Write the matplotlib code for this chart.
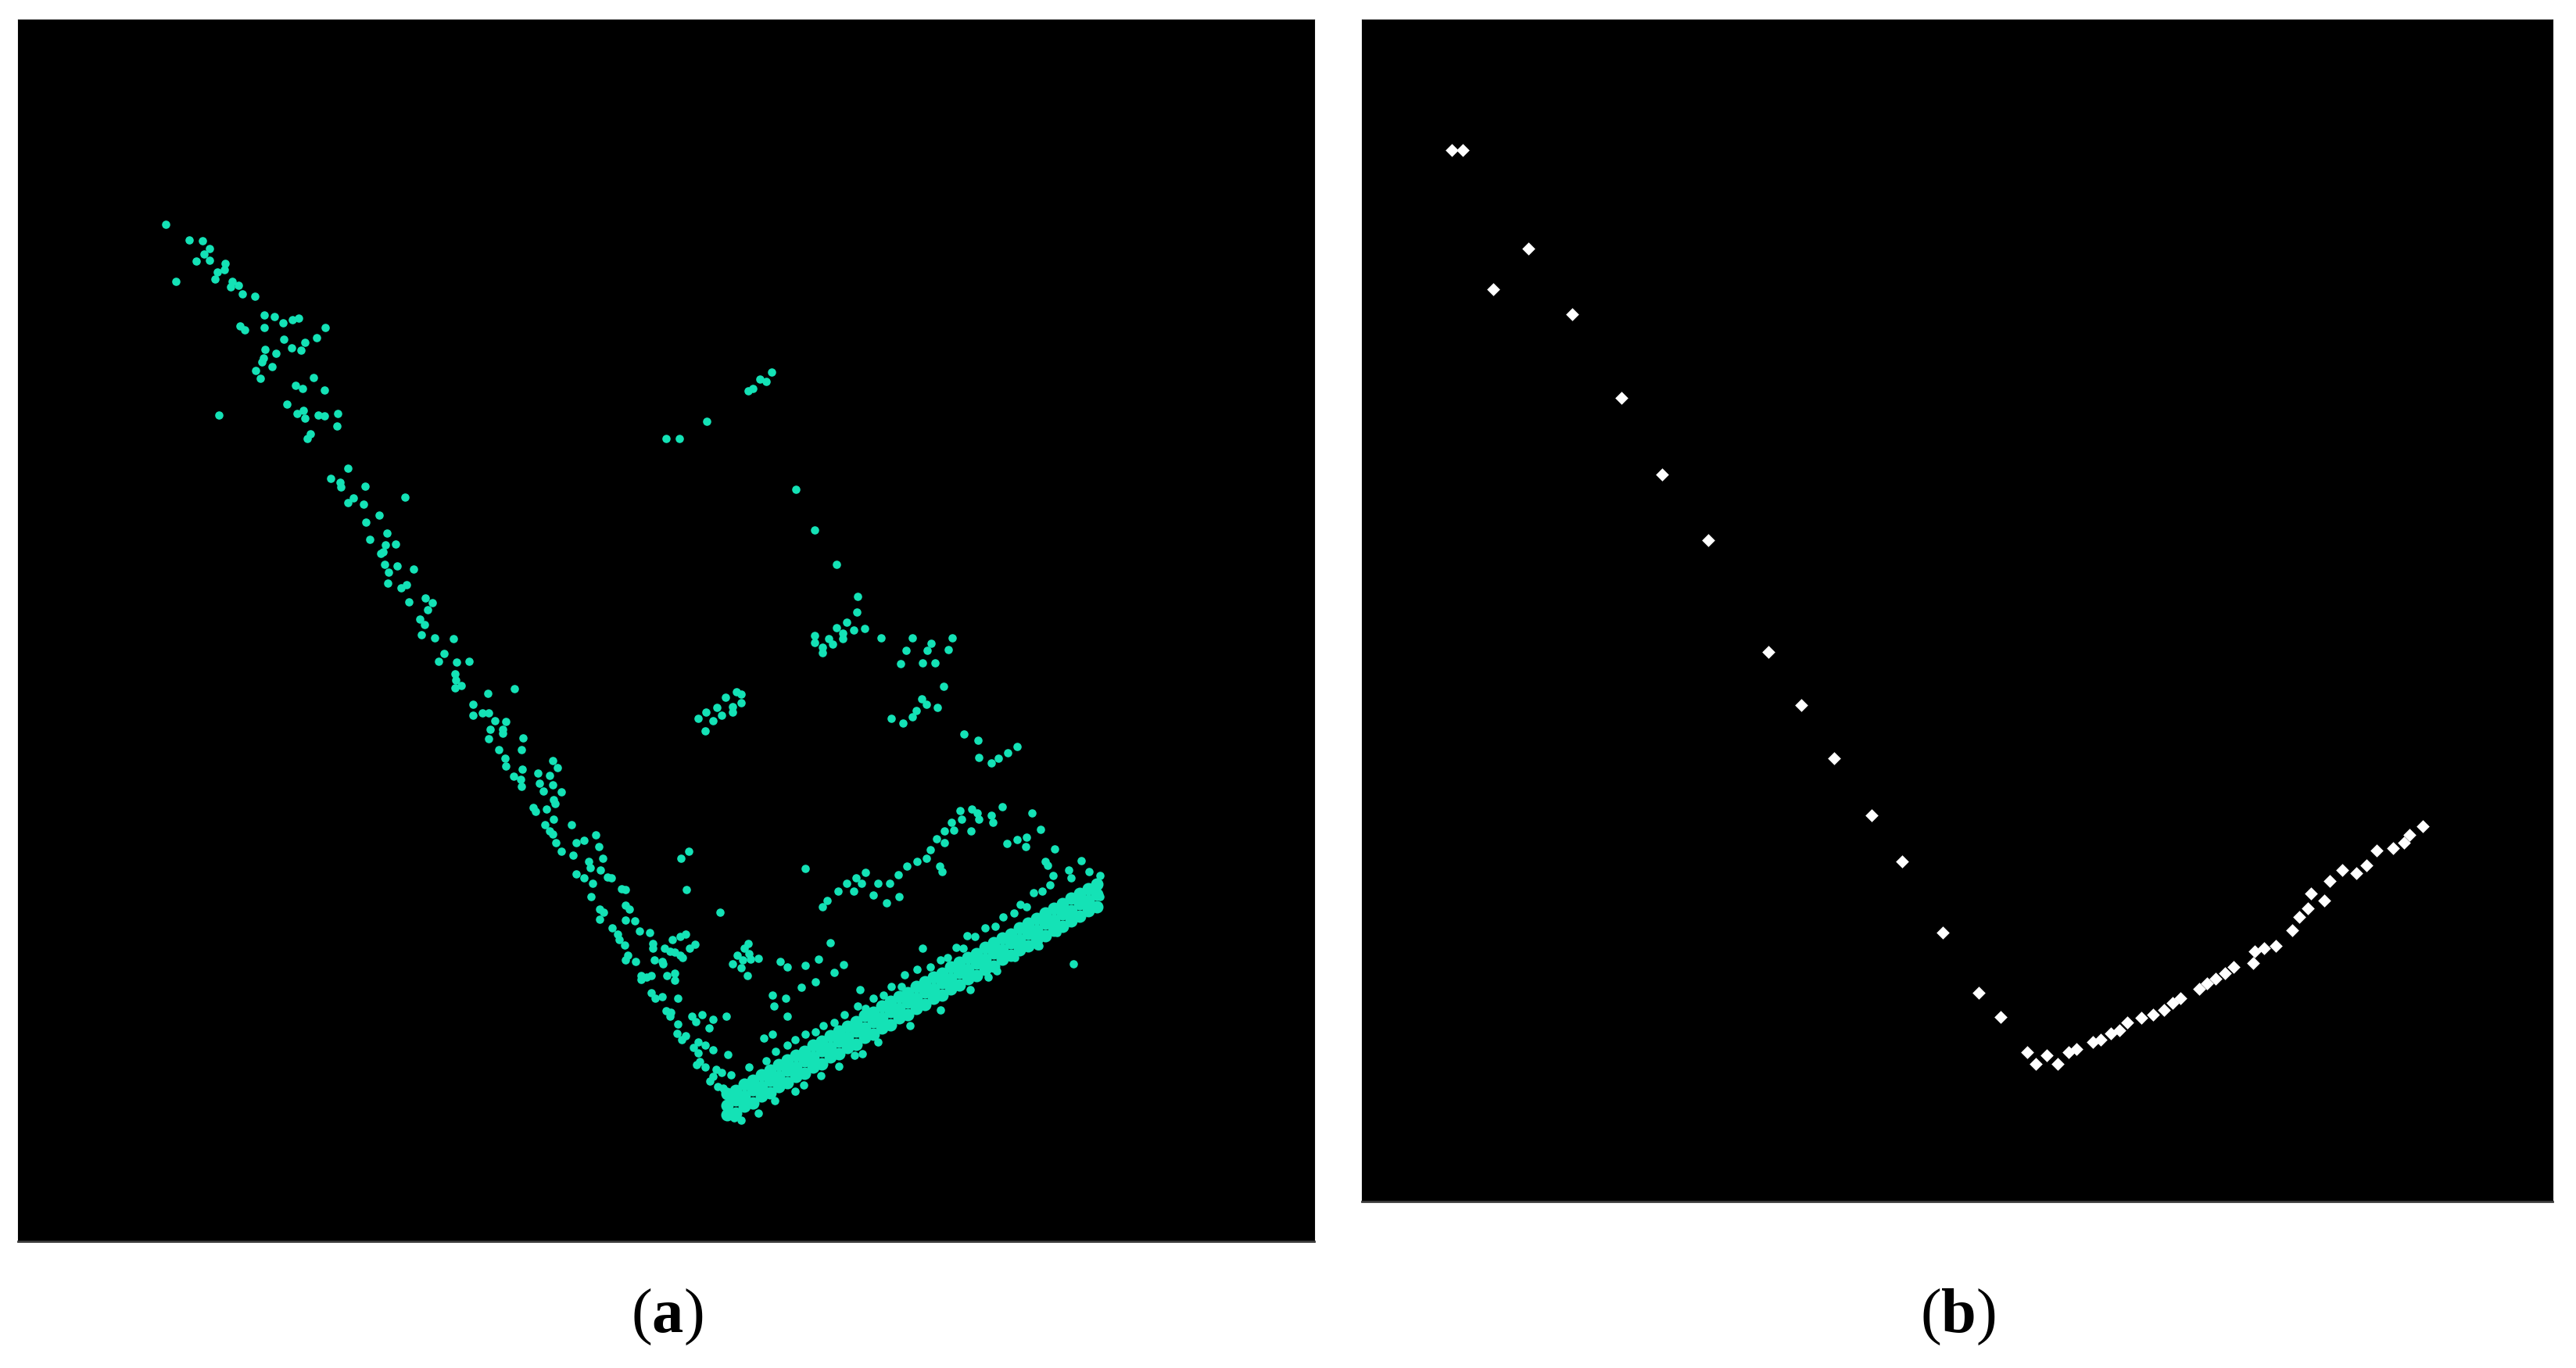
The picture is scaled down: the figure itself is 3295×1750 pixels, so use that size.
import numpy as np
import matplotlib
matplotlib.use("Agg")
import matplotlib.pyplot as plt

plt.rcParams['mathtext.fontset'] = 'custom'
plt.rcParams['mathtext.rm'] = 'Liberation Serif'
plt.rcParams['mathtext.bf'] = 'Liberation Serif:bold'

#Step 1: point cloud (a), in image pixels
# wall: the long diagonal run of points from top-left down to the floor
wall_pts = [
    (212, 287), (242, 307), (259, 308), (268, 318), (261, 325), (251, 334), (268, 333), (288, 337),
    (287, 345), (278, 348), (275, 357), (225, 360), (297, 360), (305, 365), (295, 367), (310, 376),
    (326, 379), (338, 403), (351, 405), (362, 413), (374, 409), (382, 407), (307, 417), (313, 422),
    (338, 419), (416, 419), (405, 432), (363, 434), (373, 445), (390, 438), (385, 448), (339, 447),
    (353, 452), (337, 458), (335, 463), (348, 469), (327, 474), (333, 484), (401, 483), (378, 493),
    (387, 497), (415, 499), (367, 517), (280, 531), (380, 529), (388, 525), (390, 535), (407, 531),
    (415, 532), (432, 529), (431, 545), (397, 555), (393, 561), (445, 599), (423, 612), (435, 617),
    (436, 623), (467, 622), (518, 636), (452, 637), (445, 643), (465, 645),
    (485, 659), (468, 668), (495, 682), (473, 690), (493, 697), (506, 696), (490, 706), (487, 708),
    (492, 722), (508, 724), (529, 728), (497, 732), (496, 746), (513, 752), (520, 748), (523, 770),
    (544, 765), (553, 771), (547, 780), (537, 792), (543, 799), (539, 812), (556, 816), (580, 817),
    (568, 836), (561, 846), (584, 847), (600, 846), (582, 862), (583, 870), (590, 877), (582, 880),
    (658, 881), (624, 887), (605, 901), (605, 915), (617, 912), (625, 912), (633, 922), (647, 923),
    (643, 933), (627, 933), (625, 945), (643, 938), (669, 944), (638, 959), (667, 959), (646, 970),
    (647, 980), (668, 984), (657, 993), (666, 997), (667, 1006), (707, 973), (713, 982), (688, 989),
    (703, 992), (690, 1002), (707, 1004), (695, 1012), (718, 1013),
    (708, 1023), (710, 1028), (682, 1033), (685, 1038), (699, 1035), (708, 1048), (731, 1055),
    (697, 1055), (703, 1063), (707, 1067), (762, 1068), (737, 1078), (747, 1075), (711, 1078),
    (718, 1089), (733, 1094), (766, 1083), (753, 1102), (755, 1110), (771, 1098), (737, 1118),
    (747, 1123), (758, 1130), (768, 1113), (777, 1122), (782, 1123), (795, 1137), (800, 1138),
    (756, 1147), (767, 1163), (772, 1167), (767, 1176), (800, 1158), (805, 1163), (800, 1177),
    (812, 1178), (783, 1187), (790, 1195), (792, 1202), (799, 1209), (818, 1191), (831, 1193),
    (835, 1207), (835, 1213), (860, 1202), (870, 1198), (877, 1195), (850, 1213), (857, 1217),
    (863, 1218), (870, 1222), (882, 1213), (889, 1208), (873, 1225), (837, 1228), (847, 1230),
    (848, 1233), (803, 1222), (800, 1228), (813, 1230), (820, 1248), (827, 1250), (833, 1248),
    (820, 1253), (853, 1248), (863, 1245), (863, 1254), (833, 1270), (838, 1277), (847, 1275),
    (867, 1277), (852, 1293), (858, 1295), (857, 1300), (885, 1300), (898, 1298), (912, 1304),
    (890, 1307), (929, 1300), (867, 1310), (907, 1315),
    (866, 1322), (877, 1325), (872, 1330), (893, 1333), (902, 1337), (887, 1340), (912, 1343),
    (893, 1347), (895, 1358), (891, 1362), (902, 1365), (916, 1368), (912, 1377), (923, 1372),
    (935, 1375), (908, 1383), (918, 1390), (927, 1395), (931, 1413), (939, 1430), (948, 1433),
]

# clutter: the loose groups between wall and floor
clutter_pts = [
    (987, 476), (972, 485), (980, 488), (963, 497), (957, 500), (904, 539), (852, 561), (869, 561),
    (1018, 626), (1042, 678), (1070, 722), (1097, 763), (1096, 783), (1070, 803), (1083, 796),
    (1092, 806), (1106, 804), (1042, 813), (1042, 822), (1060, 817), (1065, 824), (1078, 810),
    (1078, 817), (1052, 828), (1052, 835), (1127, 816), (1167, 816), (1159, 832), (1191, 823),
    (1186, 832), (1218, 816), (1213, 831), (1152, 849), (1180, 848), (1196, 848), (1207, 878),
    (1179, 894), (1185, 901), (1199, 905), (1172, 909), (1167, 917), (1140, 919), (1155, 925),
    (1233, 939), (1251, 947), (1252, 969), (1268, 976), (1277, 970), (1289, 963), (1301, 955),
    (893, 919), (903, 911), (912, 922), (917, 905), (923, 915), (928, 892), (937, 904), (937, 911),
    (942, 885), (948, 888), (948, 899), (902, 935),
    (881, 1089), (871, 1098), (878, 1138), (921, 1167), (1030, 1111),
    (957, 1207), (952, 1213), (943, 1222), (958, 1220), (960, 1227), (970, 1226), (937, 1233),
    (948, 1238), (956, 1248), (950, 1228),
    (998, 1230), (1007, 1237), (1030, 1235), (1047, 1227), (1025, 1263), (1043, 1256),
    (988, 1273), (1005, 1277), (990, 1287), (1007, 1300),
    (1062, 1206), (1079, 1234), (1067, 1244), (988, 1323), (977, 1328), (931, 1349), (1100, 1266),
    (1180, 1213), (1327, 1210), (1373, 1233),
    (1282, 1032), (1320, 1040), (1331, 1061), (1349, 1086), (1288, 1079), (1301, 1074), (1313, 1071),
    (1312, 1083), (1383, 1101), (1337, 1102), (1340, 1107),
    (1268, 1043), (1270, 1052), (1250, 1040), (1252, 1048), (1243, 1035), (1242, 1063), (1228, 1037),
    (1230, 1048), (1217, 1052), (1220, 1062), (1208, 1063), (1198, 1073), (1208, 1078), (1190, 1087),
    (1185, 1098), (1173, 1102), (1160, 1108), (1149, 1119), (1202, 1108), (1205, 1115), (1138, 1130),
    (1123, 1130), (1107, 1116), (1095, 1123), (1102, 1130), (1083, 1130), (1072, 1140), (1092, 1140),
    (1117, 1145), (1150, 1147), (1134, 1155), (1052, 1160), (1058, 1152),
    (1367, 1113), (1370, 1123), (1393, 1115), (1407, 1120), (1400, 1137), (1407, 1147), (1393, 1160),
    (1347, 1120), (1343, 1132),
]

# edge: the thin row running just above the floor band
edge_pts = [
    (958, 1365), (980, 1357), (992, 1345), (1007, 1337), (1017, 1330), (1030, 1323), (1043, 1320),
    (1053, 1312), (1067, 1308), (1080, 1298), (1097, 1287), (1107, 1290), (1117, 1277), (1130, 1273),
    (1140, 1262), (1153, 1262), (1157, 1247), (1173, 1240), (1190, 1237), (1203, 1228), (1212, 1225),
    (1223, 1212), (1232, 1213), (1237, 1197), (1247, 1198), (1260, 1187), (1273, 1185), (1283, 1173),
    (1297, 1168), (1305, 1157), (1313, 1160), (1322, 1142), (1333, 1140),
]

# floor: the dense band at the bottom, read as three rows
floor_x = [930, 941, 952, 963, 974, 985, 996, 1007, 1018, 1029, 1040, 1051, 1062, 1073, 1084,
           1095, 1106, 1117, 1128, 1139, 1150, 1161, 1172, 1183, 1194, 1205, 1216, 1227, 1238,
           1249, 1260, 1271, 1282, 1293, 1304, 1315, 1326, 1337, 1348, 1359, 1370, 1381, 1392, 1403]
floor_hi_y = [1399, 1395, 1387, 1382, 1375, 1369, 1362, 1356, 1350, 1345, 1337, 1332, 1325, 1319,
              1313, 1307, 1299, 1295, 1287, 1281, 1275, 1270, 1262, 1256, 1250, 1245, 1237, 1231,
              1225, 1220, 1212, 1206, 1200, 1195, 1187, 1181, 1175, 1168, 1162, 1156, 1149, 1143,
              1137, 1131]
floor_mid_y = [1414, 1407, 1402, 1394, 1390, 1382, 1377, 1369, 1365, 1357, 1352, 1344, 1340, 1332,
               1327, 1319, 1315, 1307, 1302, 1294, 1290, 1282, 1277, 1269, 1265, 1257, 1252, 1244,
               1240, 1232, 1227, 1219, 1215, 1206, 1202, 1194, 1190, 1181, 1177, 1169, 1165, 1156,
               1152, 1144]
floor_lo_y = [1426, 1424, 1415, 1411, 1402, 1398, 1390, 1385, 1377, 1373, 1365, 1361, 1352, 1348,
              1340, 1336, 1327, 1323, 1315, 1311, 1302, 1298, 1290, 1285, 1277, 1273, 1265, 1260,
              1252, 1248, 1240, 1236, 1227, 1222, 1215, 1210, 1202, 1197, 1190, 1185, 1178, 1172,
              1165, 1160]
floor_teeth = [
    (970, 1424), (991, 1408), (1017, 1396), (1028, 1388), (1050, 1376), (1073, 1364), (1093, 1350),
    (1103, 1348), (1123, 1333), (1164, 1312), (1203, 1292), (1241, 1266), (1264, 1250), (1275, 1242),
    (1298, 1225), (1329, 1210), (1352, 1193), (1394, 1160), (925, 1392), (935, 1405),
]

#Step 2: extracted profile (b)
profile_x = [1857, 1871, 1955, 1910, 2011, 2074, 2126, 2185, 2262, 2304, 2346, 2394, 2433, 2485,
             2531, 2559, 2593, 2604, 2618, 2632, 2646, 2656, 2677, 2687, 2700, 2711, 2721, 2739,
             2754, 2768, 2779, 2789, 2813, 2823, 2834, 2846, 2857, 2882, 2884, 2896, 2911, 2932,
             2941, 2952, 2956, 2973, 2980, 2996, 3014, 3027, 3040, 3061, 3075, 3082, 3099]
profile_y = [192, 192, 318, 370, 402, 509, 607, 691, 834, 902, 970, 1043, 1102, 1193,
             1270, 1301, 1346, 1361, 1350, 1361, 1346, 1342, 1333, 1330, 1322, 1318, 1308, 1302,
             1298, 1292, 1283, 1277, 1265, 1258, 1252, 1245, 1237, 1232, 1217, 1213, 1210, 1190,
             1173, 1162, 1143, 1152, 1127, 1113, 1117, 1107, 1088, 1085, 1078, 1068, 1057]

panel_labels = ['a', 'b']

#Step 3: figure
fig = plt.figure(figsize=(32.95, 17.5), dpi=100)
fig.patch.set_facecolor('white')

ax_a = fig.add_axes([23 / 3295, 1 - 1588 / 1750, 1658 / 3295, 1563 / 1750])
ax_b = fig.add_axes([1742 / 3295, 1 - 1537 / 1750, 1523 / 3295, 1512 / 1750])

teal = '#14e2b6'
dot = 58

for pts in [wall_pts, clutter_pts, edge_pts, floor_teeth]:
    arr = np.array(pts)
    ax_a.scatter(arr[:, 0], arr[:, 1], s=dot, c=teal, linewidths=0)
# the floor band is packed tight, so its dots merge into one strip
for row in [floor_hi_y, floor_mid_y, floor_lo_y]:
    ax_a.scatter(floor_x, row, s=dot * 2.3, c=teal, linewidths=0)

ax_b.scatter(profile_x, profile_y, s=72, marker='D', c='white', linewidths=0)

ax_a.set_xlim(23, 1681)
ax_a.set_ylim(1588, 25)
ax_b.set_xlim(1742, 3265)
ax_b.set_ylim(1537, 25)

for ax in [ax_a, ax_b]:
    ax.set_facecolor('black')
    ax.set_xticks([])
    ax.set_yticks([])
    for side in ['top', 'left', 'right']:
        ax.spines[side].set_color('black')
    ax.spines['bottom'].set_color('#3c3c3c')
    ax.spines['bottom'].set_linewidth(2)

#Step 4: sub-figure labels
for xpos, lab in zip([853 / 3295, 2504 / 3295], panel_labels):
    fig.text(xpos, 1 - 1704 / 1750, '($\\mathbf{' + lab + '}$)', ha='center', va='baseline',
             fontsize=58, family='Liberation Serif', color='black')

fig.savefig('out.png', dpi=100, facecolor='white')
